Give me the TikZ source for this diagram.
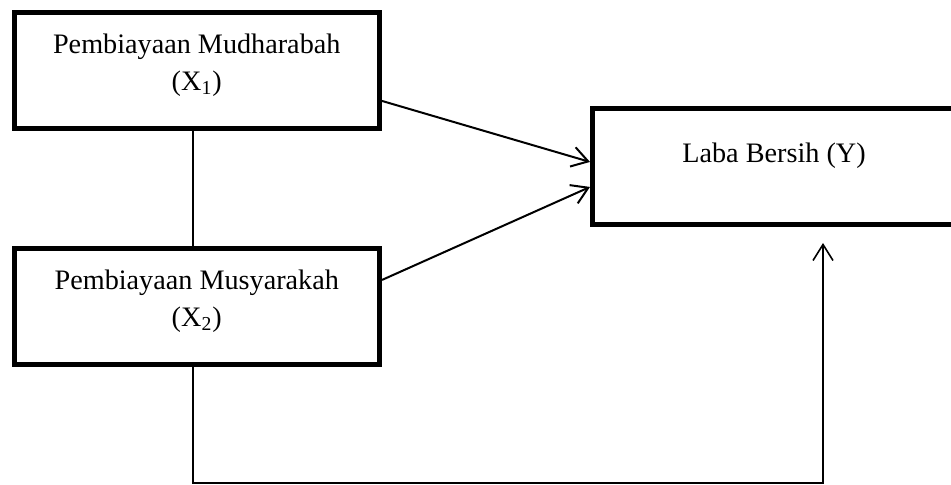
\documentclass[tikz,border=0pt]{standalone}
\usepackage{fontspec}
\setmainfont{Liberation Serif}
\usetikzlibrary{arrows.meta,positioning}

\begin{document}
\begin{tikzpicture}[x=0.5pt,y=-0.5pt,
  every node/.style={font=\fontsize{14.1pt}{18.5pt}\selectfont},
  var/.style={draw,line width=2.5pt,minimum width=182.75pt,minimum height=58.25pt,inner sep=0pt},
  lbl/.style={align=center,inner sep=0pt},
  arr/.style={-{Straight Barb[length=8pt,width=10pt]},line width=1pt},
  ln/.style={line width=0.8pt}]
  \useasboundingbox (0,0) rectangle (951,485);
  % variables
  \node[var] (x1) at (196.75,70.75) {};
  \node[var] (x2) at (196.75,306.75) {};
  \node[var,minimum width=181.5pt] (y) at (774,166.75) {};
  \node[lbl] (x1t) at ([yshift=3pt]x1.center) {Pembiayaan Mudharabah\\(X\textsubscript{1})};
  \node[lbl] (x2t) at ([yshift=3pt]x2.center) {Pembiayaan Musyarakah\\(X\textsubscript{2})};
  \node[lbl] (yt) at ([yshift=5.7pt]y.center) {Laba Bersih (Y)};
  % connectors
  \coordinate (corner) at (193,483);
  \coordinate (yin) at (823,243);
  \draw[ln] (x1.south -| corner) -- (x2.north -| corner);
  \draw[arr] ([yshift=-15.1pt]x1.east) -- ([yshift=2.4pt]y.west);
  \draw[arr] ([yshift=13.4pt]x2.east) -- ([yshift=-10.1pt]y.west);
  \draw[arr,line width=0.8pt] (x2.south -| corner) -- (corner) -| (yin);
\end{tikzpicture}
\end{document}
